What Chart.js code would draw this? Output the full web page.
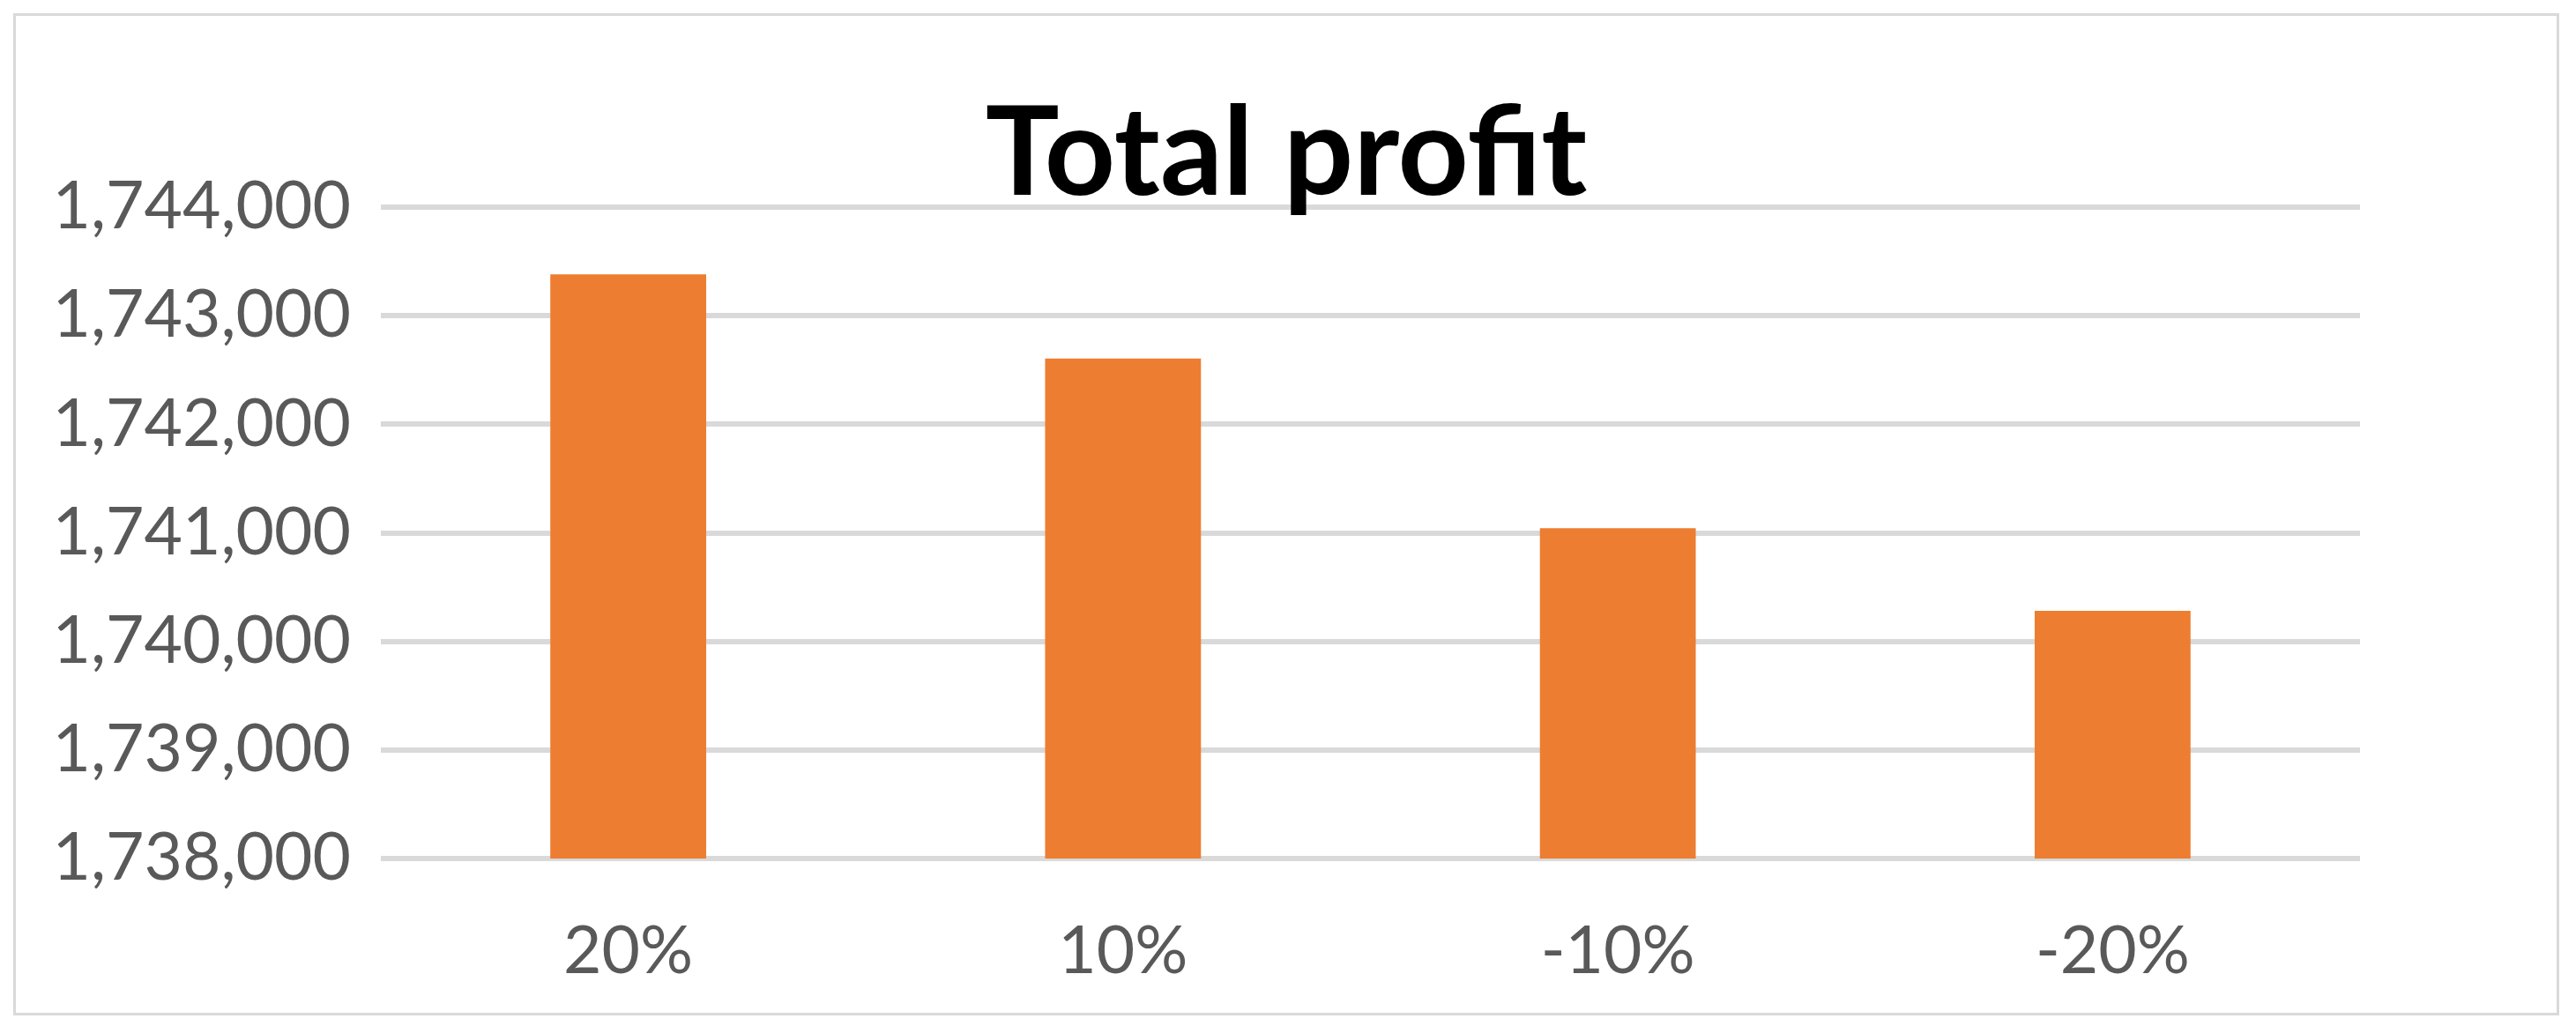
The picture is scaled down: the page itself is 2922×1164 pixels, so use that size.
<!DOCTYPE html>
<html>
<head>
<meta charset="utf-8">
<script src="https://cdn.jsdelivr.net/npm/chart.js@4"></script>
<style>
	body { margin: 0; background: #fff; }
	#frame { position: absolute; left: 15px; top: 15px; width: 2882px; height: 1131px; border: 3px solid #d9d9d9; overflow: hidden; }
	#wrap { position: relative; width: 2882px; height: 1160px; }
</style>
</head>
<body>
<div id="frame"><div id="wrap"><canvas id="chart"></canvas></div></div>
<script>
const categories = ['20%', '10%', '-10%', '-20%']
const profits = [1743380, 1742606, 1741042, 1740282]
const yTicks = [1738000, 1739000, 1740000, 1741000, 1742000, 1743000, 1744000]

const ctx = document.getElementById('chart').getContext('2d')
new Chart(ctx, {
	type: 'bar',
	data: {
		labels: categories,
		datasets: [{
			label: 'Total profit',
			data: profits,
			backgroundColor: '#ED7D31',
			categoryPercentage: 1,
			barPercentage: 0.315
		}]
	},
	options: {
		responsive: true,
		maintainAspectRatio: false,
		animation: false,
		layout: { padding: 0 },
		plugins: {
			legend: { display: false },
			tooltip: { enabled: false },
			title: {
				display: true,
				text: 'Total profit',
				color: '#000',
				font: { family: 'Lato', size: 140, weight: 'bold', lineHeight: 0.85 },
				padding: { top: 98, bottom: 0 }
			}
		},
		scales: {
			x: {
				grid: { display: false },
				border: { display: false },
				ticks: { color: '#595959', font: { family: 'Lato', size: 75 }, padding: 53 }
			},
			y: {
				min: 1738000,
				max: 1744000,
				afterBuildTicks: (axis) => { axis.ticks = yTicks.map(v => ({ value: v })) },
				afterFit: (axis) => { axis.width = 414 },
				grid: { color: '#d9d9d9', lineWidth: 6, drawTicks: false },
				border: { display: false },
				ticks: {
					color: '#595959',
					font: { family: 'Lato', size: 75 },
					padding: 34,
					callback: (v) => v.toLocaleString('en-US')
				}
			},
			// empty right axis only to leave the right margin so the title stays centered on the canvas
			y2: {
				position: 'right',
				afterFit: (axis) => { axis.width = 223 },
				grid: { display: false },
				border: { display: false },
				ticks: { display: false }
			}
		}
	}
})
</script>
</body>
</html>
